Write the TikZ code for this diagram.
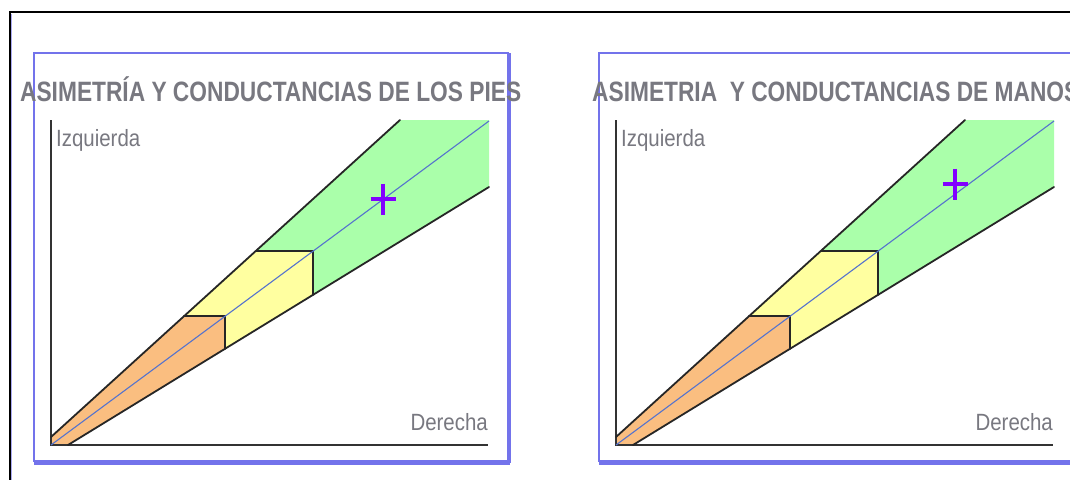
\documentclass[tikz,border=0pt]{standalone}
\usepackage{fontspec}
\setmainfont{Liberation Sans}
\definecolor{boxblue}{RGB}{115,115,235}
\definecolor{txtgray}{RGB}{120,120,128}
\definecolor{orangef}{RGB}{250,190,128}
\definecolor{yellowf}{RGB}{255,255,160}
\definecolor{greenf}{RGB}{170,255,170}
\definecolor{midblue}{RGB}{85,115,205}
\definecolor{crossv}{RGB}{130,0,255}
\tikzset{
  panelbox/.style={draw=boxblue,line width=2pt},
  edgeline/.style={draw=black!85,line width=1.8pt,line cap=round},
  axisline/.style={draw=black!80,line width=1.8pt},
  centerline/.style={draw=midblue,line width=1.1pt},
  crossline/.style={draw=crossv,line width=3.2pt},
  titletext/.style={anchor=base west,inner sep=0pt,text=txtgray,font=\bfseries\fontsize{28}{28}\selectfont,xscale=0.812},
  axistext/.style={inner sep=0pt,text=txtgray,font=\fontsize{23.5}{23.5}\selectfont,xscale=0.87}
}
\newcommand{\drawpanel}[3]{%
  % #1 prefix, #2 cross x, #3 cross y
  \draw[panelbox] (34,53) rectangle (508,461);
  \draw[draw=boxblue,line width=4pt] (34,463) -- (510,463);
  \draw[draw=boxblue,line width=3pt] (509.5,53) -- (509.5,463);
  \coordinate (#1O) at (51,445);
  \coordinate (#1U0) at (51,437);
  \coordinate (#1U1) at (400,120);
  \coordinate (#1R1) at (489,120);
  \coordinate (#1R2) at (489,187);
  \coordinate (#1L0) at (68,445);
  \coordinate (#1A) at (184,316);
  \coordinate (#1B) at (225,316);
  \coordinate (#1Bl) at (225,349);
  \coordinate (#1C) at (256,251);
  \coordinate (#1D) at (313,251);
  \coordinate (#1Dl) at (313,295);
  \fill[orangef] (#1O) -- (#1U0) -- (#1A) -- (#1B) -- (#1Bl) -- (#1L0) -- cycle;
  \fill[yellowf] (#1A) -- (#1C) -- (#1D) -- (#1Dl) -- (#1Bl) -- (#1B) -- cycle;
  \fill[greenf] (#1C) -- (#1U1) -- (#1R1) -- (#1R2) -- (#1Dl) -- (#1D) -- cycle;
  \draw[axisline] (51,120) -- (#1O) -- (488,445);
  \draw[edgeline] (#1U0) -- (#1U1);
  \draw[edgeline] (#1L0) -- (#1R2);
  \draw[edgeline] (#1A) -- (#1B) -- (#1Bl);
  \draw[edgeline] (#1C) -- (#1D) -- (#1Dl);
  \draw[centerline] (#1O) -- (489,121);
  \draw[crossline] (#2-12.5,#3) -- (#2+12.5,#3);
  \draw[crossline] (#2,#3-15.5) -- (#2,#3+15.5);
  \node[axistext,anchor=west] (#1izq) at (56,140) {Izquierda};
  \node[axistext,anchor=east] (#1der) at (488,422) {Derecha};
}
\begin{document}
\begin{tikzpicture}[x=1pt,y=-1pt]
\useasboundingbox (0,0) rectangle (1070,479);
\clip (0,0) rectangle (1070,479);
\fill[white] (0,0) rectangle (1070,479);
\draw[draw=black,line width=1.6pt] (10,479.5) -- (10,12) -- (1071,12);
\draw[draw=boxblue!60,line width=0.8pt] (11.5,479.5) -- (11.5,13.5);
\begin{scope}
  \drawpanel{a}{383}{199}
\end{scope}
\begin{scope}[xshift=565pt]
  \drawpanel{b}{390}{184}
\end{scope}
\node[titletext] (t1) at (20,101) {ASIMETRÍA Y CONDUCTANCIAS DE LOS PIES};
\node[titletext] (t2) at (592,101) {ASIMETRIA\ \ Y CONDUCTANCIAS DE MANOS};
\end{tikzpicture}
\end{document}
